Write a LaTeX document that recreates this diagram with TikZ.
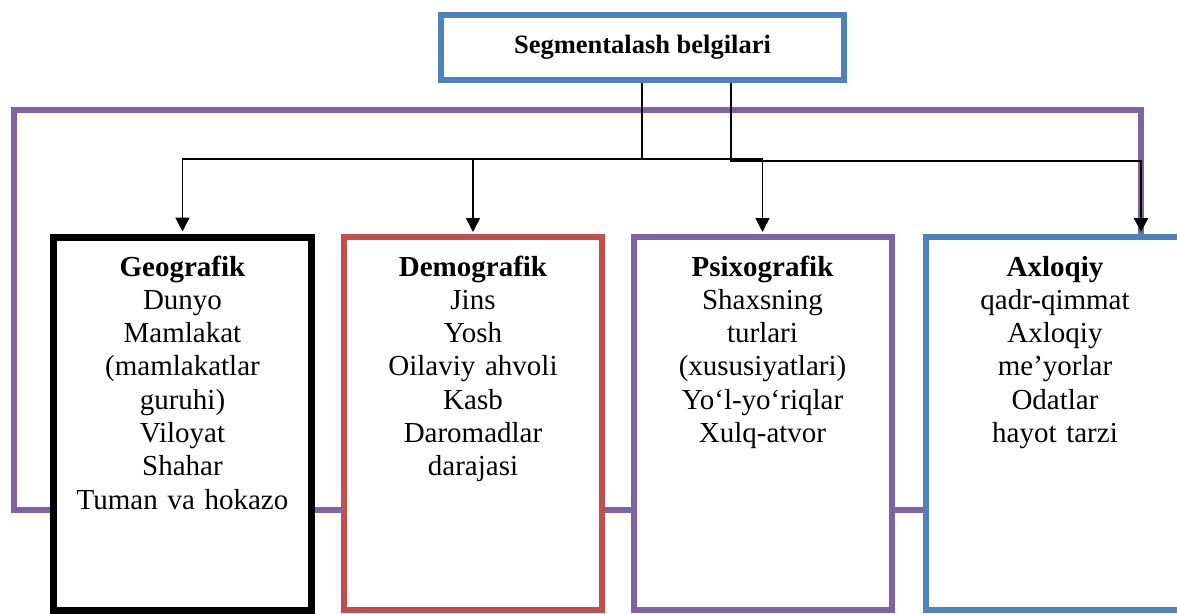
\documentclass[tikz,border=0pt]{standalone}
\usepackage{fontspec}
\setmainfont{Liberation Serif}
\usetikzlibrary{arrows.meta}
\definecolor{ofblue}{HTML}{4F81BD}
\definecolor{ofred}{HTML}{C0504D}
\definecolor{ofpurple}{HTML}{8064A2}

\begin{document}
\begin{tikzpicture}[x=1pt, y=-1pt,
	segbox/.style={draw, fill=white, line width=6pt, inner sep=0pt, anchor=base,
		text width=258pt, align=center, text height=39pt, text depth=334pt,
		font=\fontsize{29}{33.3}\selectfont},
	link/.style={line width=1.6pt, -{Triangle[width=14pt,length=14pt]}, shorten >=2pt}]
	\useasboundingbox (0,0) rectangle (1177,613);
	\clip (0,0) rectangle (1177,613);

	% purple frame behind the boxes
	\draw[ofpurple, line width=6pt] (14,110) rectangle (1141,510);

	\node[draw=ofblue, line width=6pt, minimum width=403pt, minimum height=65pt,
		font=\fontsize{26.5}{30}\selectfont\bfseries] (belgi) at (642.5,47.5) {Segmentalash belgilari};

	\node[segbox, draw=black, line width=7pt] (geo) at (182.5,276)
		{\textbf{Geografik}\\Dunyo\\Mamlakat\\(mamlakatlar\\guruhi)\\Viloyat\\Shahar\\Tuman va hokazo};
	\node[segbox, draw=ofred] (demo) at (473,276)
		{\textbf{Demografik}\\Jins\\Yosh\\Oilaviy ahvoli\\Kasb\\Daromadlar\\darajasi};
	\node[segbox, draw=ofpurple] (psixo) at (762.5,276)
		{\textbf{Psixografik}\\Shaxsning\\turlari\\(xususiyatlari)\\Yo‘l-yo‘riqlar\\Xulq-atvor};
	\node[segbox, draw=ofblue] (axloq) at (1055,276)
		{\textbf{Axloqiy}\\qadr-qimmat\\Axloqiy\\me’yorlar\\Odatlar\\hayot tarzi};

	\coordinate (j1) at (642,159);
	\coordinate (j2) at (731,161);
	\coordinate (r2) at (1141,161);

	\draw[line width=1.6pt] (belgi.south -| j1) -- (j1);
	\draw[link] (j1) -| (geo.north);
	\draw[link] (j1) -| (demo.north);
	\draw[link] (j1) -| (psixo.north);
	\draw[link, line width=2.2pt] (belgi.south -| j2) -- (j2) -- (r2) -- (r2 |- axloq.north);
\end{tikzpicture}
\end{document}
